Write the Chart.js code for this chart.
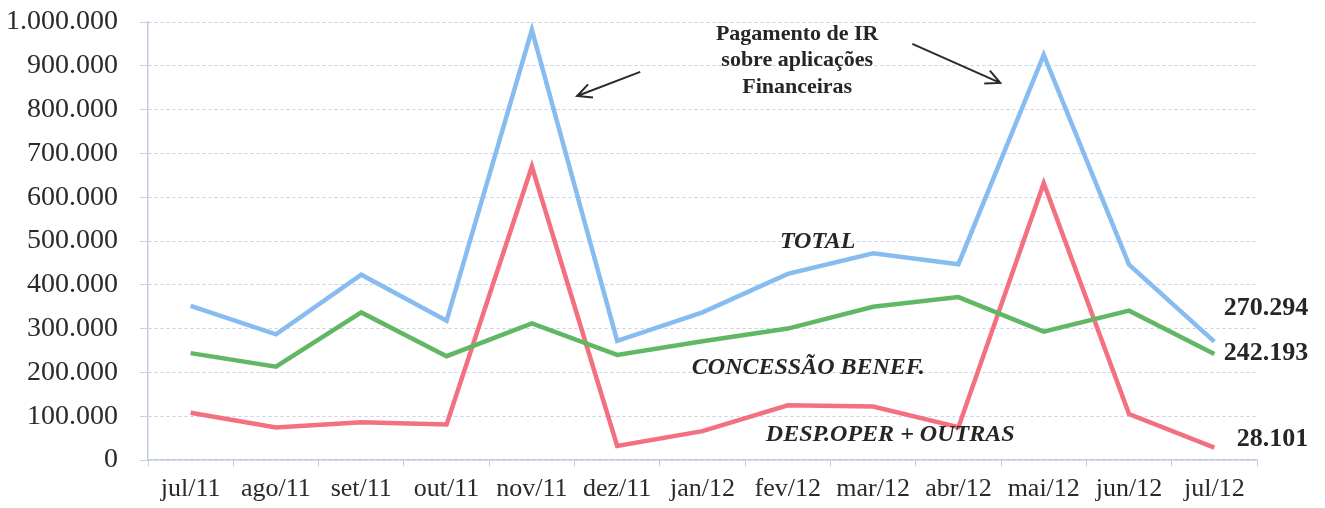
<!DOCTYPE html>
<html>
<head>
<meta charset="utf-8">
<script src="https://cdn.jsdelivr.net/npm/chart.js@4"></script>
<style>
  html, body { margin: 0; padding: 0; background: #fff; }
  #wrap { width: 1325px; height: 508px; }
</style>
</head>
<body>
<div id="wrap"><canvas id="chart"></canvas></div>
<script>
const meses = ['jul/11', 'ago/11', 'set/11', 'out/11', 'nov/11', 'dez/11', 'jan/12', 'fev/12', 'mar/12', 'abr/12', 'mai/12', 'jun/12', 'jul/12'];
const total = [352000, 287000, 423000, 318000, 982000, 272000, 337000, 425000, 472000, 447000, 925000, 446000, 270294];
const concessao = [244000, 213000, 337000, 237000, 312000, 240000, 271000, 300000, 350000, 372000, 293000, 341000, 242193];
const despOper = [108000, 74000, 86000, 81000, 670000, 32000, 66000, 125000, 122000, 75000, 632000, 105000, 28101];
const valoresFinais = ['270.294', '242.193', '28.101'];

const serif = "'Liberation Serif', 'Times New Roman', serif";

// formato 1.000.000
function fmt(v) {
  return String(v).replace(/\B(?=(\d{3})+(?!\d))/g, '.');
}

function seta(ctx, x1, y1, x2, y2) {
  const ang = Math.atan2(y2 - y1, x2 - x1);
  const h = 16;
  ctx.beginPath();
  ctx.moveTo(x1, y1);
  ctx.lineTo(x2, y2);
  ctx.moveTo(x2 - h * Math.cos(ang - 0.45), y2 - h * Math.sin(ang - 0.45));
  ctx.lineTo(x2, y2);
  ctx.lineTo(x2 - h * Math.cos(ang + 0.45), y2 - h * Math.sin(ang + 0.45));
  ctx.stroke();
}

// textos e setas sobre o gráfico
const notas = {
  id: 'notas',
  afterDatasetsDraw(chart) {
    const { ctx, scales: { x, y } } = chart;
    const px = (i, v) => [x.getPixelForValue(i), y.getPixelForValue(v)];
    ctx.save();
    ctx.fillStyle = '#262626';
    ctx.textBaseline = 'middle';

    ctx.textAlign = 'center';
    ctx.font = 'bold 22px ' + serif;
    const linhas = ['Pagamento de IR', 'sobre aplicações', 'Financeiras'];
    const vals = [972000, 913000, 852000];
    linhas.forEach((t, k) => {
      const [a, b] = px(7.11, vals[k]);
      ctx.fillText(t, a, b);
    });

    ctx.strokeStyle = '#2a2a2a';
    ctx.lineWidth = 2;
    let p1 = px(5.27, 886000), p2 = px(4.53, 831000);
    seta(ctx, p1[0], p1[1], p2[0], p2[1]);
    p1 = px(8.46, 950000); p2 = px(9.49, 861000);
    seta(ctx, p1[0], p1[1], p2[0], p2[1]);

    ctx.font = 'italic bold 24px ' + serif;
    let p = px(7.35, 498000);
    ctx.fillText('TOTAL', p[0], p[1]);
    p = px(7.24, 211000);
    ctx.fillText('CONCESSÃO BENEF.', p[0], p[1]);
    p = px(8.2, 57000);
    ctx.fillText('DESP.OPER + OUTRAS', p[0], p[1]);

    ctx.textAlign = 'right';
    ctx.font = 'bold 26px ' + serif;
    const ys = [346000, 243000, 47000];
    valoresFinais.forEach((t, k) => {
      const q = px(13.1, ys[k]);
      ctx.fillText(t, q[0], q[1]);
    });
    ctx.restore();
  }
};

new Chart(document.getElementById('chart'), {
  type: 'line',
  data: {
    labels: meses,
    datasets: [
      { label: 'TOTAL', data: total, borderColor: '#86bcf0' },
      { label: 'CONCESSÃO BENEF.', data: concessao, borderColor: '#62b765' },
      { label: 'DESP.OPER + OUTRAS', data: despOper, borderColor: '#f2707f' }
    ]
  },
  options: {
    responsive: true,
    maintainAspectRatio: false,
    animation: false,
    elements: {
      line: { borderWidth: 4.5, tension: 0 },
      point: { radius: 0 }
    },
    layout: { padding: { top: 22, right: 68, left: 0, bottom: 0 } },
    plugins: {
      legend: { display: false },
      tooltip: { enabled: false }
    },
    scales: {
      x: {
        offset: true,
        grid: { offset: true, drawOnChartArea: false, color: '#c3cbe0', tickLength: 6 },
        border: { color: '#c3cbe0', width: 1.5 },
        ticks: { color: '#2a2a2a', font: { family: serif, size: 26 }, padding: 8, maxRotation: 0, autoSkip: false },
        afterFit(s) { s.height = 48; }
      },
      y: {
        min: 0,
        max: 1000000,
        ticks: {
          stepSize: 100000,
          color: '#2a2a2a',
          font: { family: serif, size: 28 },
          padding: 22,
          callback: v => fmt(v)
        },
        grid: { color: '#c8d0e6', tickLength: 8 },
        border: { color: '#c3cbe0', width: 1.5, dash: [3, 3] },
        afterFit(s) { s.width = 148; s.paddingTop = 0; s.paddingBottom = 0; }
      }
    }
  },
  plugins: [notas]
});
</script>
</body>
</html>
